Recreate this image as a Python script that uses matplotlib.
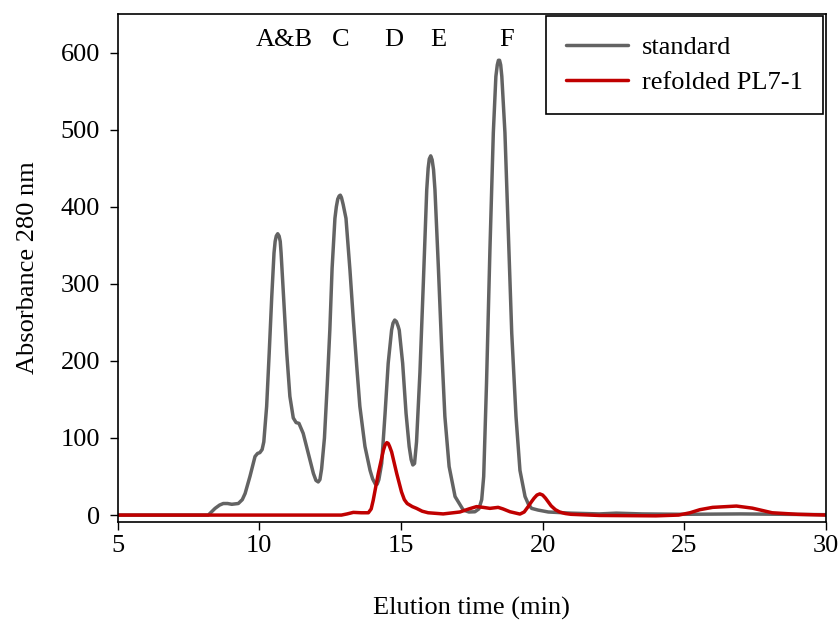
import matplotlib
matplotlib.use("Agg")
import matplotlib.pyplot as plt

plt.rcParams['font.family'] = ['Liberation Serif', 'DejaVu Serif']

# Standard (grey) trace: elution time (min), absorbance
std_x = [5.0, 8.0, 8.2, 8.44, 8.6, 8.73, 8.88, 9.03, 9.26, 9.40, 9.50, 9.67, 9.85, 9.94,
         10.02, 10.10, 10.16, 10.26, 10.35, 10.44, 10.52, 10.56, 10.60, 10.65, 10.70,
         10.74, 10.77, 10.87, 10.97, 11.08, 11.20, 11.30, 11.40, 11.55, 11.73, 11.91,
         12.00, 12.08, 12.14, 12.20, 12.30, 12.40, 12.49, 12.57, 12.67, 12.72, 12.77,
         12.82, 12.86, 12.90, 12.96, 13.06, 13.20, 13.32, 13.44, 13.55, 13.73, 13.91,
         14.00, 14.10, 14.16, 14.22, 14.32, 14.44, 14.55, 14.67, 14.72, 14.78, 14.84,
         14.90, 14.94, 15.06, 15.18, 15.29, 15.36, 15.42, 15.48, 15.55, 15.67, 15.79,
         15.91, 15.96, 16.00, 16.05, 16.10, 16.15, 16.20, 16.32, 16.44, 16.55, 16.70,
         16.91, 17.20, 17.40, 17.61, 17.75, 17.85, 17.92, 18.02, 18.14, 18.26, 18.35,
         18.40, 18.44, 18.48, 18.52, 18.56, 18.67, 18.79, 18.91, 19.06, 19.20, 19.38,
         19.50, 19.61, 19.84, 20.2, 21.0, 22.0, 22.6, 23.5, 25.0, 27.0, 30.0]
std_y = [0, 0, 0, 8.7, 13, 15, 15, 14, 15, 20, 28, 50, 76, 80,
         81, 85, 95, 141, 210, 283, 340, 355, 362, 365, 362,
         355, 340, 275, 210, 154, 126, 120, 119, 106, 80, 54,
         45, 43, 46, 60, 100, 170, 240, 320, 385, 400, 410,
         414, 415, 412, 403, 385, 318, 253, 193, 141, 89, 58,
         47, 40, 40, 46, 67, 132, 197, 240, 249, 253, 251,
         245, 240, 197, 132, 89, 72, 65, 67, 95, 185, 301,
         422, 450, 462, 466, 461, 448, 422, 322, 214, 128, 63,
         24, 6.5, 4, 4.3, 8, 20, 50, 171, 344, 496, 569,
         584, 590, 590, 584, 569, 496, 366, 236, 128, 58, 24,
         14, 8.7, 6.5, 4, 2.5, 1.5, 2.5, 1.5, 1, 1.5, 0.5]

# Refolded PL7-1 (red) trace
ref_x = [5.0, 12.9, 13.1, 13.32, 13.6, 13.85, 13.95, 14.02, 14.20, 14.38, 14.44, 14.50,
         14.55, 14.60, 14.67, 14.85, 15.02, 15.12, 15.22, 15.40, 15.55, 15.75, 15.96,
         16.49, 17.08, 17.4, 17.67, 17.9, 18.14, 18.43, 18.6, 18.85, 19.2, 19.35, 19.49,
         19.6, 19.7, 19.8, 19.9, 20.0, 20.1, 20.2, 20.3, 20.45, 20.6, 20.8, 21.0,
         22.0, 24.0, 24.8, 25.2, 25.55, 26.0, 26.84, 27.4, 28.1, 29.0, 30.0]
ref_y = [0, 0, 1.5, 3.5, 3, 3, 8, 19, 54, 84, 91, 94,
         93, 89, 82, 54, 30, 20, 15, 11, 8.7, 5, 3,
         1.5, 4, 8, 11, 10, 8.7, 10, 8, 4.3, 1.3, 4, 11,
         17, 22, 26, 27.5, 26, 22, 17, 12, 7, 4, 2, 1,
         -0.5, -1, 0, 3, 7, 10, 11.7, 9, 3, 1, 0]

series_names = ["standard", "refolded PL7-1"]
peak_labels = ["A&B", "C", "D", "E", "F"]
peak_label_x = [10.87, 12.88, 14.75, 16.30, 18.74]
peak_label_y = 616

xticks = [5, 10, 15, 20, 25, 30]
yticks = [0, 100, 200, 300, 400, 500, 600]

fig = plt.figure(figsize=(8.4, 6.21), dpi=100)
ax = fig.add_axes([0.140, 0.1594, 0.8433, 0.818])

ax.plot(std_x, std_y, color='#636363', lw=2.5, label=series_names[0],
        solid_joinstyle='round', solid_capstyle='round')
ax.plot(ref_x, ref_y, color='#c00000', lw=2.5, label=series_names[1],
        solid_joinstyle='round', solid_capstyle='round')

for lab, xx in zip(peak_labels, peak_label_x):
    ax.text(xx, peak_label_y, lab, ha='center', va='center', fontsize=19)

ax.set_xlim(5, 30)
ax.set_ylim(-9, 650)
ax.set_xticks(xticks)
ax.set_yticks(yticks)
ax.tick_params(axis='both', direction='out', length=5.5, width=1.0, labelsize=19)
ax.tick_params(axis='x', pad=4)
ax.tick_params(axis='y', pad=7)
for s in ax.spines.values():
    s.set_linewidth(1.2)

ax.set_xlabel("Elution time (min)", fontsize=19, labelpad=28.5)
ax.set_ylabel("Absorbance 280 nm", fontsize=19, labelpad=16)

leg = ax.legend(loc='upper right', bbox_to_anchor=(0.9955, 0.997), fontsize=19,
                frameon=True, fancybox=False, edgecolor='black', framealpha=1,
                handlelength=2.35, handletextpad=0.55, borderpad=0.75,
                labelspacing=0.45, borderaxespad=0.0)
leg.get_frame().set_linewidth(1.2)

fig.savefig("out.png", dpi=100)
